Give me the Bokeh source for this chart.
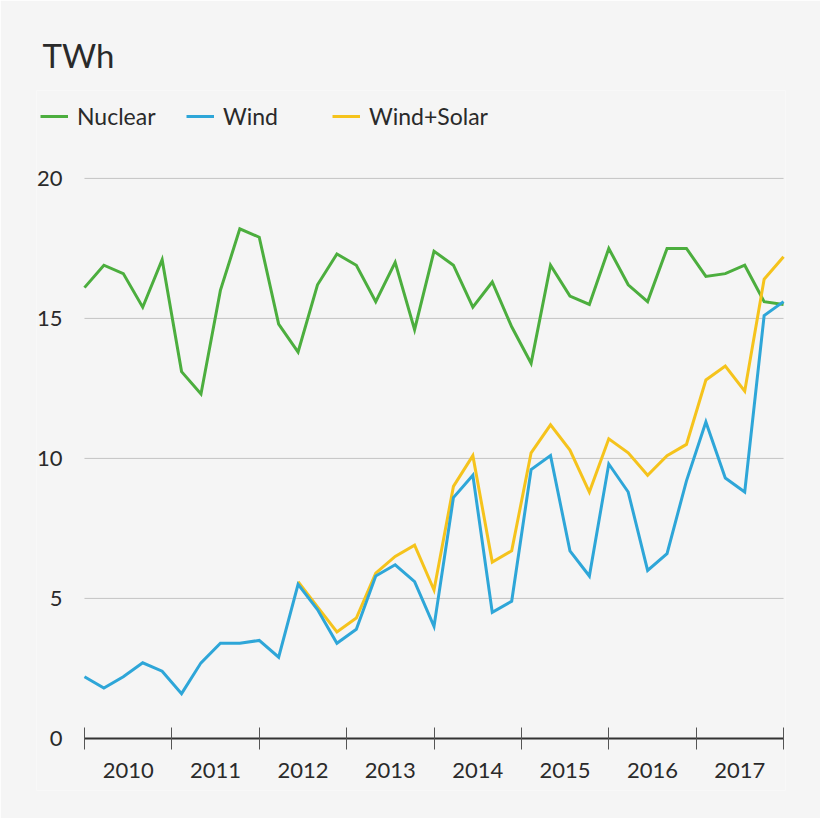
from bokeh.plotting import figure
from bokeh.models import Range1d, FixedTicker, Legend, LegendItem
from bokeh.core.properties import value
from bokeh.embed import file_html
from bokeh.resources import INLINE

nan = float("nan")

years = ["2010", "2011", "2012", "2013", "2014", "2015", "2016", "2017"]
pts_per_year = 4.5
y_ticks = [0, 5, 10, 15, 20]

nuclear = [16.1, 16.9, 16.6, 15.4, 17.1, 13.1, 12.3, 16.0, 18.2, 17.9,
           14.8, 13.8, 16.2, 17.3, 16.9, 15.6, 17.0, 14.6, 17.4, 16.9,
           15.4, 16.3, 14.7, 13.4, 16.9, 15.8, 15.5, 17.5, 16.2, 15.6,
           17.5, 17.5, 16.5, 16.6, 16.9, 15.6, 15.5]
wind = [2.2, 1.8, 2.2, 2.7, 2.4, 1.6, 2.7, 3.4, 3.4, 3.5,
        2.9, 5.5, 4.6, 3.4, 3.9, 5.8, 6.2, 5.6, 4.0, 8.6,
        9.4, 4.5, 4.9, 9.6, 10.1, 6.7, 5.8, 9.8, 8.8, 6.0,
        6.6, 9.2, 11.3, 9.3, 8.8, 15.1, 15.6]
wind_solar = [nan] * 11 + [
    5.6, 4.7, 3.8, 4.3, 5.9, 6.5, 6.9, 5.3, 9.0,
    10.1, 6.3, 6.7, 10.2, 11.2, 10.3, 8.8, 10.7, 10.2, 9.4,
    10.1, 10.5, 12.8, 13.3, 12.4, 16.4, 17.2]

x = list(range(len(nuclear)))
n_last = len(nuclear) - 1

GREEN = "#4cae3e"
BLUE = "#2ea6d8"
YELLOW = "#f5c31c"
BG = "#f5f5f5"
TXT = "#2a2a2a"
FONT = "Lato"

# frame is widened left/top/bottom so legend and tick labels sit inside it
p = figure(width=820, height=818, output_backend="svg", toolbar_location=None,
           x_range=Range1d(-2.47, n_last + 0.1), y_range=Range1d(-1.86, 23.14),
           background_fill_color=BG, border_fill_color=BG,
           min_border_left=36, min_border_right=35, min_border_bottom=28,
           min_border_top=90)
p.outline_line_color = None

p.title.text = "TWh"
p.title.text_font = FONT
p.title.text_font_size = "33px"
p.title.text_font_style = "normal"
p.title.text_color = TXT
p.title.offset = 6
p.title.standoff = 31

# horizontal grid lines, only across the data span
p.segment(x0=[0] * 4, x1=[n_last] * 4, y0=y_ticks[1:], y1=y_ticks[1:],
          color="#c4c4c4", line_width=1)

# y tick labels
p.text(x=[-1.13] * len(y_ticks), y=y_ticks, text=[str(t) for t in y_ticks],
       text_align="right", text_baseline="middle", text_font=value(FONT),
       text_font_size="22px", text_color=TXT)

# year labels, centred between the year boundaries
mids = [(i + 0.5) * pts_per_year for i in range(len(years))]
p.text(x=mids, y=[-1.14] * len(years), text=years,
       text_align="center", text_baseline="middle", text_font=value(FONT),
       text_font_size="22px", text_color=TXT)

r_nuc = p.line(x, nuclear, color=GREEN, line_width=3, line_join="miter")
r_ws = p.line(x, wind_solar, color=YELLOW, line_width=3, line_join="miter")
r_wind = p.line(x, wind, color=BLUE, line_width=3, line_join="miter")

legend = Legend(items=[LegendItem(label="Nuclear", renderers=[r_nuc]),
                       LegendItem(label="Wind", renderers=[r_wind]),
                       LegendItem(label="Wind+Solar", renderers=[r_ws])],
                location=(4, 660), orientation="horizontal",
                background_fill_alpha=0, border_line_color=None,
                padding=0, margin=0, spacing=24,
                glyph_width=28, glyph_height=24, label_width=85,
                label_standoff=9, label_text_font=FONT,
                label_text_font_size="23px", label_text_color=TXT)
p.add_layout(legend, "center")

# x axis line at y=0 with year boundary ticks
bounds = [i * pts_per_year for i in range(len(years) + 1)]
p.xaxis.fixed_location = 0
p.xaxis.ticker = FixedTicker(ticks=[], minor_ticks=bounds)
p.xaxis.bounds = (0, n_last)
p.xaxis.axis_line_color = "#333333"
p.xaxis.axis_line_width = 2
p.xaxis.major_tick_line_color = None
p.xaxis.major_tick_out = 0
p.xaxis.major_label_standoff = 0
p.xaxis.minor_tick_line_color = "#555555"
p.xaxis.minor_tick_in = 11
p.xaxis.minor_tick_out = 11

p.yaxis.visible = False
p.xgrid.grid_line_color = None
p.ygrid.grid_line_color = None

open("out.html", "w").write(file_html(p, INLINE))
